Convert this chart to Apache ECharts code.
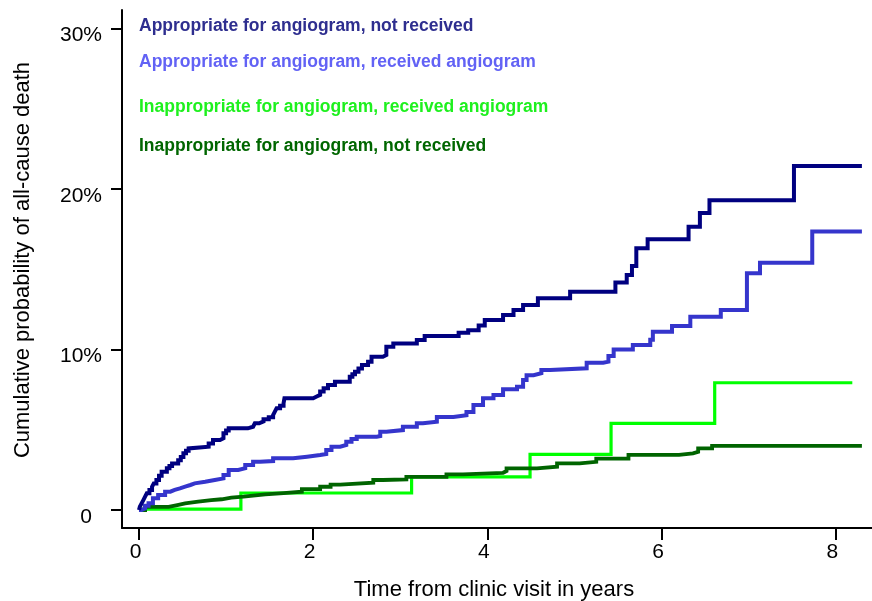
<!DOCTYPE html>
<html>
<head>
<meta charset="utf-8">
<script src="https://cdn.jsdelivr.net/npm/echarts@6/dist/echarts.min.js"></script>
<style>
  html, body { margin: 0; padding: 0; background: #ffffff; }
  #chart { width: 872px; height: 601px; }
</style>
</head>
<body>
<div id="chart"></div>
<script>
// Kaplan-Meier style cumulative incidence of all-cause death, by angiogram group.
// Each point is [years since clinic visit, cumulative probability in %].

const groupNames = [
  'Appropriate for angiogram, not received',
  'Appropriate for angiogram, received angiogram',
  'Inappropriate for angiogram, received angiogram',
  'Inappropriate for angiogram, not received'
];

const xTicks = [0, 2, 4, 6, 8];
const yTicks = [0, 10, 20, 30];

const apprNotReceived = [
  [0, 0], [0.01, 0.2], [0.03, 0.41], [0.05, 0.62], [0.07, 0.83], [0.09, 1.04],
  [0.12, 1.25], [0.15, 1.45], [0.17, 1.66], [0.2, 1.87], [0.23, 2.13], [0.26, 2.39],
  [0.32, 2.6], [0.35, 2.75], [0.38, 2.9], [0.45, 3.1], [0.48, 3.3], [0.51, 3.53],
  [0.54, 3.7], [0.57, 3.84], [0.59, 3.94], [0.8, 4.15], [0.85, 4.36], [0.93, 4.47],
  [0.97, 4.78], [1.0, 4.95], [1.03, 5.09], [1.25, 5.19], [1.31, 5.3], [1.33, 5.4],
  [1.38, 5.52], [1.43, 5.65], [1.49, 5.78], [1.54, 5.92], [1.56, 6.13], [1.58, 6.34],
  [1.62, 6.5], [1.66, 6.65], [1.67, 6.96], [2.0, 7.07], [2.04, 7.17], [2.08, 7.38],
  [2.12, 7.58], [2.17, 7.79], [2.25, 7.99], [2.42, 8.3], [2.45, 8.46], [2.48, 8.62],
  [2.52, 8.82], [2.56, 9.03], [2.63, 9.24], [2.67, 9.55], [2.8, 9.66], [2.84, 10.17],
  [2.92, 10.38], [3.19, 10.59], [3.28, 10.84], [3.67, 11.05], [3.78, 11.2], [3.9, 11.5],
  [3.97, 11.84], [4.18, 12.15], [4.3, 12.46], [4.41, 12.77], [4.58, 13.2], [4.95, 13.6],
  [5.47, 14.17], [5.6, 14.64], [5.66, 15.2], [5.71, 16.3], [5.84, 16.87], [6.31, 17.65],
  [6.44, 18.5], [6.55, 19.3], [7.52, 21.43], [8.3, 21.43]
];

const apprReceived = [
  [0, 0], [0.03, 0.1], [0.07, 0.26], [0.11, 0.42], [0.16, 0.73], [0.22, 0.93],
  [0.3, 1.14], [0.36, 1.25], [0.41, 1.35], [0.47, 1.46], [0.53, 1.56], [0.59, 1.66],
  [0.64, 1.76], [0.76, 1.87], [0.87, 1.97], [0.97, 2.18], [1.03, 2.49], [1.14, 2.6],
  [1.22, 2.8], [1.31, 3.0], [1.39, 3.05], [1.54, 3.22], [1.77, 3.32], [1.93, 3.43],
  [2.08, 3.49], [2.15, 3.74], [2.21, 3.94], [2.31, 4.05], [2.38, 4.26], [2.44, 4.42],
  [2.5, 4.57], [2.73, 4.61], [2.77, 4.88], [2.84, 4.98], [3.03, 5.19], [3.19, 5.4],
  [3.26, 5.5], [3.42, 5.8], [3.61, 5.9], [3.76, 6.1], [3.84, 6.54], [3.95, 6.96],
  [4.07, 7.16], [4.18, 7.52], [4.34, 7.68], [4.41, 8.1], [4.45, 8.4], [4.53, 8.52],
  [4.62, 8.72], [4.72, 8.83], [5.14, 9.18], [5.33, 9.24], [5.39, 9.6], [5.45, 10.0],
  [5.67, 10.28], [5.87, 10.6], [5.9, 11.1], [6.12, 11.46], [6.33, 12.04], [6.68, 12.46],
  [6.98, 14.75], [7.13, 15.4], [7.73, 17.35], [8.3, 17.35]
];

const inapprReceived = [
  [0, 0.05], [1.17, 1.06], [3.13, 2.07], [4.49, 3.47], [5.42, 5.4], [6.61, 7.93], [8.19, 7.93]
];

const inapprNotReceived = [
  [0, 0], [0.07, 0.2], [0.34, 0.31], [0.44, 0.42], [0.53, 0.52], [0.68, 0.62],
  [0.83, 0.67], [0.95, 0.77], [1.06, 0.83], [1.2, 0.9], [1.31, 0.98], [1.45, 1.05],
  [1.66, 1.14], [1.87, 1.3], [2.08, 1.45], [2.2, 1.58], [2.31, 1.7], [2.69, 1.87],
  [2.8, 1.91], [3.07, 2.07], [3.53, 2.22], [3.72, 2.32], [4.18, 2.43], [4.22, 2.6],
  [4.57, 2.7], [4.8, 2.9], [5.06, 3.0], [5.25, 3.2], [5.62, 3.43], [6.2, 3.53],
  [6.36, 3.63], [6.42, 3.84], [6.58, 3.99], [8.3, 3.99]
];

const lineColors = ['#000080', '#3535cc', '#00ff00', '#006400'];
const labelColors = ['#2e2e8f', '#6262f5', '#1ef01e', '#006600'];
const labelTops = [27, 63, 108, 147];

const fontFamily = '"Liberation Sans", Arial, Helvetica, sans-serif';

const chart = echarts.init(document.getElementById('chart'), null, { renderer: 'canvas' });

function stepSeries(name, data, color, width, z) {
  return {
    name: name,
    type: 'line',
    step: 'end',
    data: data,
    showSymbol: false,
    symbol: 'none',
    z: z,
    lineStyle: { color: color, width: width, cap: 'butt', join: 'miter' },
    emphasis: { disabled: true }
  };
}

const option = {
  animation: false,
  backgroundColor: '#ffffff',
  grid: { left: 122, top: 10, right: 0, bottom: 73, containLabel: false },
  xAxis: {
    type: 'value',
    min: -0.195,
    max: 8.416,
    splitLine: { show: false },
    axisLine: { show: true, onZero: false, lineStyle: { color: '#000', width: 2 } },
    axisTick: { show: true, customValues: xTicks, length: 12, inside: false,
                lineStyle: { color: '#000', width: 2 } },
    axisLabel: {
      customValues: xTicks,
      margin: 14,
      padding: [0, 7, 0, 0],
      color: '#000',
      fontSize: 21,
      fontFamily: fontFamily,
      formatter: v => String(v)
    }
  },
  yAxis: {
    type: 'value',
    min: -1.12,
    max: 31.15,
    splitLine: { show: false },
    axisLine: { show: true, onZero: false, lineStyle: { color: '#000', width: 2 } },
    axisTick: { show: true, customValues: yTicks, length: 11, inside: false,
                lineStyle: { color: '#000', width: 2 } },
    axisLabel: {
      customValues: yTicks,
      margin: 20,
      padding: [14, 0, 0, 0],
      color: '#000',
      fontSize: 21,
      fontFamily: fontFamily,
      formatter: v => (v === 0 ? '{zero|0}' : v + '%'),
      rich: { zero: { padding: [0, 10, 0, 0], fontSize: 21, fontFamily: fontFamily, color: '#000' } }
    }
  },
  series: [
    stepSeries(groupNames[2], inapprReceived, lineColors[2], 3.2, 2),
    stepSeries(groupNames[3], inapprNotReceived, lineColors[3], 3.8, 3),
    stepSeries(groupNames[1], apprReceived, lineColors[1], 4, 4),
    stepSeries(groupNames[0], apprNotReceived, lineColors[0], 4, 5)
  ],
  graphic: [
    // group labels in the upper-left of the plot
    ...groupNames.map((name, i) => ({
      type: 'text',
      left: 139,
      top: labelTops[i] - 10,
      style: {
        text: name,
        fill: labelColors[i],
        font: 'bold 17.5px ' + fontFamily
      }
    })),
    // axis titles
    {
      type: 'text',
      x: 494,
      y: 590,
      style: {
        text: 'Time from clinic visit in years',
        fill: '#000',
        font: '22px ' + fontFamily,
        align: 'center',
        verticalAlign: 'middle'
      }
    },
    {
      type: 'text',
      x: 23,
      y: 260,
      rotation: Math.PI / 2,
      style: {
        text: 'Cumulative probability of all-cause death',
        fill: '#000',
        font: '22px ' + fontFamily,
        align: 'center',
        verticalAlign: 'middle'
      }
    }
  ]
};

chart.setOption(option);
</script>
</body>
</html>
